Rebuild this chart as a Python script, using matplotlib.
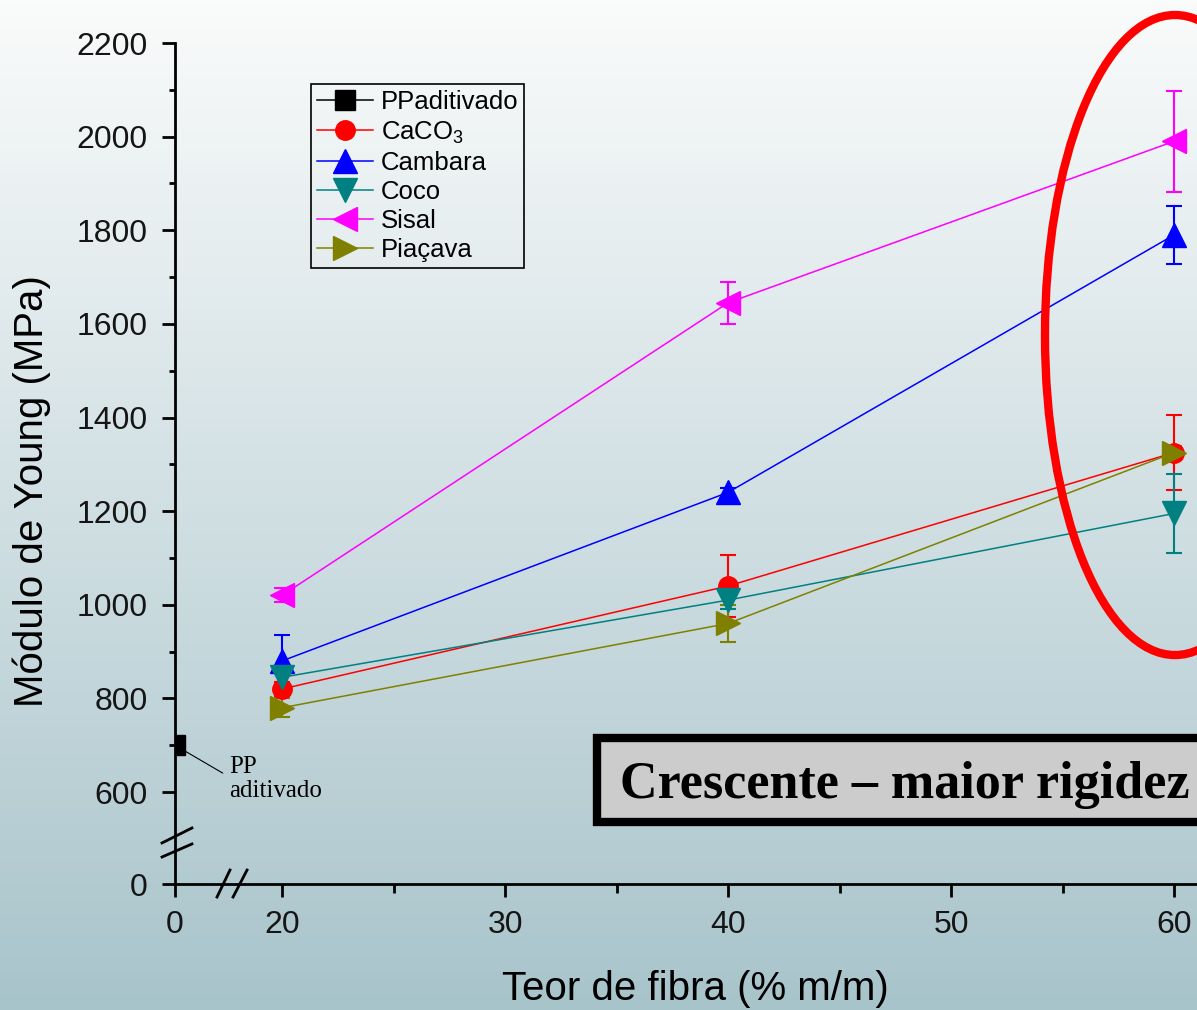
import numpy as np
import matplotlib.pyplot as plt
from matplotlib.patches import Ellipse, Rectangle
from matplotlib.ticker import FixedLocator

plt.rcParams['font.family'] = ['Liberation Sans', 'DejaVu Sans']
plt.rcParams['mathtext.fontset'] = 'custom'
plt.rcParams['mathtext.rm'] = 'Liberation Sans'

# fibre content (% m/m) and Young's modulus (MPa) with std deviation
teor = [20, 40, 60]
pp_teor = [0]
pp_mod = [700]
caco3 = [820, 1040, 1325]
caco3_err = [15, 67, 80]
cambara = [880, 1240, 1790]
cambara_err = [55, 10, 62]
coco = [845, 1010, 1195]
coco_err = [15, 20, 85]
sisal = [1020, 1645, 1990]
sisal_err = [15, 45, 108]
piacava = [780, 960, 1325]
piacava_err = [20, 40, 15]

xticks = [0, 20, 30, 40, 50, 60]
xminor = [25, 35, 45, 55]
yticks = [0, 600, 800, 1000, 1200, 1400, 1600, 1800, 2000, 2200]
yminor = [700, 900, 1100, 1300, 1500, 1700, 1900, 2100]

# broken axes: squeeze 0-20 on x and 0-600 on y
XGAP = 4.8
YGAP = 196.5


def fx(x):
    x = np.asarray(x, float)
    return np.where(x < 20, x * XGAP / 20, x - 20 + XGAP)


def ix(t):
    t = np.asarray(t, float)
    return np.where(t < XGAP, t * 20 / XGAP, t + 20 - XGAP)


def fy(y):
    y = np.asarray(y, float)
    return np.where(y < 600, y * YGAP / 600, y - 600 + YGAP)


def iy(t):
    t = np.asarray(t, float)
    return np.where(t < YGAP, t * 600 / YGAP, t + 600 - YGAP)


fig = plt.figure(figsize=(11.97, 10.10), dpi=100)

# vertical background gradient
bg = fig.add_axes([0, 0, 1, 1], zorder=-10)
top = np.array([250, 251, 251]) / 255
bottom = np.array([168, 196, 203]) / 255
g = np.linspace(0, 1, 256)[:, None, None]
bg.imshow(top + (bottom - top) * g, aspect='auto', extent=[0, 1, 0, 1])
bg.set_axis_off()

ax = fig.add_axes([175 / 1197, 126 / 1010, 1022 / 1197, 841 / 1010])
ax.set_facecolor('none')
ax.set_xscale('function', functions=(fx, ix))
ax.set_yscale('function', functions=(fy, iy))

series = [
    (caco3, caco3_err, 'CaCO$_3$', '#ff0000', 'o', 14),
    (cambara, cambara_err, 'Cambara', '#0000ff', '^', 17),
    (coco, coco_err, 'Coco', '#008080', 'v', 17),
    (sisal, sisal_err, 'Sisal', '#ff00ff', '<', 17),
    (piacava, piacava_err, 'Piaçava', '#808000', '>', 17),
]

handles = []
h, = ax.plot(pp_teor, pp_mod, color='k', marker='s', ms=14, lw=1.1,
             label='PPaditivado', zorder=3)
handles.append(h)
for vals, err, name, col, mk, ms in series:
    ax.errorbar(teor, vals, yerr=err, fmt='none', ecolor=col,
                elinewidth=1.5, capsize=6, capthick=1.5, zorder=2)
    h, = ax.plot(teor, vals, color=col, marker=mk, ms=ms, lw=1.1,
                 label=name, zorder=3)
    handles.append(h)

ax.set_xlim(0, 61.03)
ax.set_ylim(0, 2200)
ax.xaxis.set_major_locator(FixedLocator(xticks))
ax.xaxis.set_minor_locator(FixedLocator(xminor))
ax.yaxis.set_major_locator(FixedLocator(yticks))
ax.yaxis.set_minor_locator(FixedLocator(yminor))
ax.set_xticklabels([str(v) for v in xticks])
ax.set_yticklabels([str(v) for v in yticks])

for s in ['top', 'right']:
    ax.spines[s].set_visible(False)
for s in ['left', 'bottom']:
    ax.spines[s].set_linewidth(2)
ax.tick_params(which='major', direction='out', length=9.5, width=2,
               labelsize=23, labelcolor='#151515')
ax.tick_params(axis='x', which='major', pad=9)
ax.tick_params(axis='y', which='major', pad=10)
ax.tick_params(axis='x', which='minor', direction='out', length=6.5, width=2)
ax.tick_params(axis='y', which='minor', direction='out', length=4.5, width=2)

ax.set_xlabel('Teor de fibra (% m/m)', fontsize=29)
ax.xaxis.set_label_coords(0.509, -0.102)
ax.set_ylabel('Módulo de Young (MPa)', fontsize=29)
ax.yaxis.set_label_coords(-0.121, 0.467)

# axis break marks
brk = dict(color='k', lw=2, transform=ax.transAxes, clip_on=False)
ax.plot([0.0411, 0.0538], [-0.0155, 0.0166], **brk)
ax.plot([0.0568, 0.0705], [-0.0155, 0.0166], **brk)
ax.plot([-0.0127, 0.0166], [0.0488, 0.0666], **brk)
ax.plot([-0.0127, 0.0166], [0.0321, 0.0476], **brk)

leg = ax.legend(handles=handles, loc='upper left',
                bbox_to_anchor=(0.133, 0.951), borderaxespad=0,
                fontsize=18.5, handlelength=2.2, handletextpad=0.3,
                labelspacing=0.2, borderpad=0.22, fancybox=False,
                framealpha=1, facecolor='none', edgecolor='k')
leg.get_frame().set_linewidth(1.2)

ax.annotate('PP\naditivado', xy=(0, 700), xytext=(39, -8),
            textcoords='offset points', ha='left', va='top',
            family='Liberation Serif', fontsize=18, linespacing=1.1,
            arrowprops=dict(arrowstyle='-', lw=0.8, color='k',
                            relpos=(0, 0.55), shrinkA=3, shrinkB=5))

# highlighted region and caption box
fig.add_artist(Ellipse((0.9816, 0.6683), 0.2172, 0.6337, fill=False,
                       edgecolor='#ff0000', lw=6, transform=fig.transFigure))
fig.add_artist(Rectangle((597 / 1197, 188 / 1010), 0.6, 84 / 1010,
                         facecolor='#cccccc', edgecolor='k', lw=6,
                         transform=fig.transFigure))
fig.text(620 / 1197, 212 / 1010, 'Crescente – maior rigidez',
         family='Liberation Serif', weight='bold', fontsize=37.5,
         va='baseline', ha='left')

fig.savefig('out.png', dpi=100)
